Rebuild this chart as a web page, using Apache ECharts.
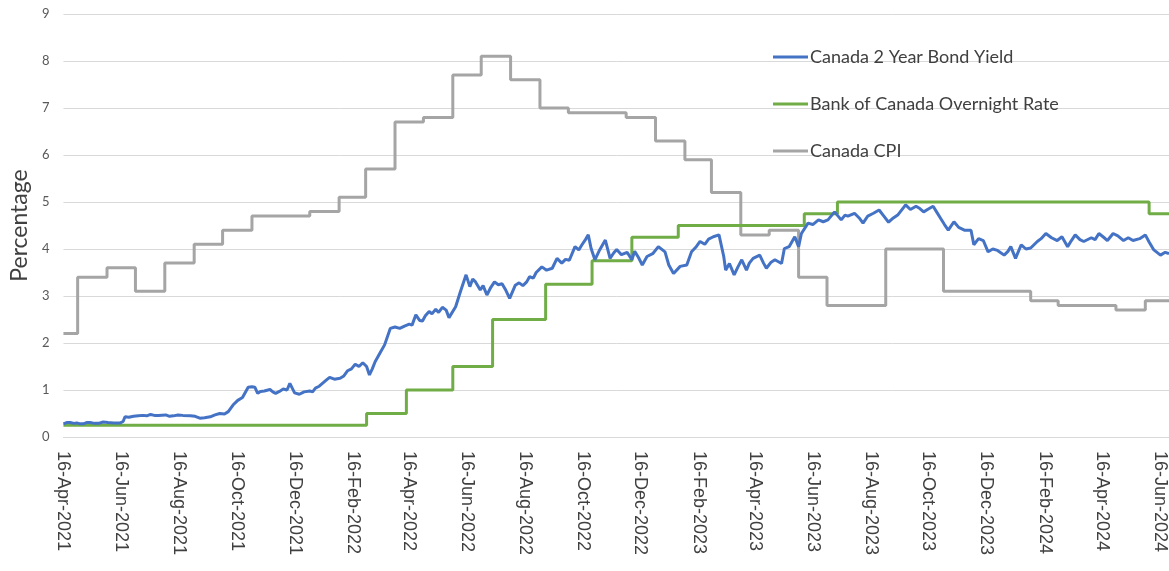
<!DOCTYPE html>
<html>
<head>
<meta charset="utf-8">
<script src="https://cdn.jsdelivr.net/npm/echarts@6/dist/echarts.min.js"></script>
<style>
html,body{margin:0;padding:0;background:#fff;}
#chart{width:1169px;height:571px;}
</style>
</head>
<body>
<div id="chart"></div>
<script>
// ---------- data ----------
const seriesNames = ['Canada 2 Year Bond Yield', 'Bank of Canada Overnight Rate', 'Canada CPI'];

const xTickLabels = ['16-Apr-2021','16-Jun-2021','16-Aug-2021','16-Oct-2021','16-Dec-2021',
  '16-Feb-2022','16-Apr-2022','16-Jun-2022','16-Aug-2022','16-Oct-2022','16-Dec-2022',
  '16-Feb-2023','16-Apr-2023','16-Jun-2023','16-Aug-2023','16-Oct-2023','16-Dec-2023',
  '16-Feb-2024','16-Apr-2024','16-Jun-2024'];
const yTickLabels = [0,1,2,3,4,5,6,7,8,9];
const xStart = '2021-04-16';
const xEnd = '2024-06-26';

const bondDates = ['2021-04-16','2021-04-20','2021-04-23','2021-04-27','2021-04-30','2021-05-04','2021-05-07','2021-05-11','2021-05-14','2021-05-19',
  '2021-05-23','2021-05-28','2021-06-02','2021-06-08','2021-06-15','2021-06-18',
  '2021-06-20','2021-06-24','2021-06-29','2021-07-04','2021-07-09','2021-07-13','2021-07-17','2021-07-21','2021-07-25','2021-08-02','2021-08-06','2021-08-10','2021-08-15','2021-08-20','2021-08-28','2021-09-02','2021-09-07',
  '2021-09-12','2021-09-18','2021-09-23','2021-09-28','2021-10-03','2021-10-07','2021-10-12','2021-10-17','2021-10-22','2021-10-28','2021-11-01','2021-11-04','2021-11-07','2021-11-10','2021-11-14',
  '2021-11-20','2021-11-23','2021-11-26','2021-11-30','2021-12-04','2021-12-08','2021-12-11','2021-12-16','2021-12-21','2021-12-26','2022-01-01','2022-01-04','2022-01-07','2022-01-11','2022-01-15','2022-01-19','2022-01-22',
  '2022-01-27','2022-02-02','2022-02-06','2022-02-10','2022-02-14','2022-02-18','2022-02-22','2022-02-26','2022-03-02','2022-03-05','2022-03-08','2022-03-11','2022-03-16','2022-03-21','2022-03-27','2022-04-01','2022-04-06','2022-04-11','2022-04-16',
  '2022-04-19','2022-04-23','2022-04-27','2022-04-30','2022-05-03','2022-05-07','2022-05-10','2022-05-14','2022-05-17','2022-05-21','2022-05-25','2022-05-28','2022-06-04','2022-06-09','2022-06-15','2022-06-19',
  '2022-06-22','2022-06-25','2022-06-30','2022-07-03','2022-07-07','2022-07-11','2022-07-15','2022-07-19','2022-07-23','2022-07-27','2022-07-31','2022-08-06','2022-08-10','2022-08-14','2022-08-18','2022-08-21','2022-08-25','2022-08-28',
  '2022-09-03','2022-09-08','2022-09-14','2022-09-19','2022-09-24','2022-09-28','2022-10-02','2022-10-08','2022-10-12','2022-10-15','2022-10-19','2022-10-22','2022-10-25','2022-10-29','2022-11-03','2022-11-09',
  '2022-11-14','2022-11-18','2022-11-21','2022-11-26','2022-12-02','2022-12-07','2022-12-10','2022-12-14','2022-12-18','2022-12-23','2022-12-29','2023-01-04','2023-01-11','2023-01-15',
  '2023-01-20','2023-01-27','2023-02-03','2023-02-08','2023-02-13','2023-02-17','2023-02-22','2023-02-26','2023-03-03','2023-03-09','2023-03-14','2023-03-16','2023-03-20',
  '2023-03-25','2023-03-29','2023-04-02','2023-04-07','2023-04-10','2023-04-14','2023-04-21','2023-04-25','2023-04-28','2023-05-03','2023-05-07','2023-05-14','2023-05-17','2023-05-22',
  '2023-05-28','2023-06-01','2023-06-04','2023-06-11','2023-06-16','2023-06-22','2023-06-27','2023-07-02','2023-07-09','2023-07-16','2023-07-20','2023-07-23','2023-07-30',
  '2023-08-04','2023-08-08','2023-08-13','2023-08-19','2023-08-25','2023-08-30','2023-09-04','2023-09-09','2023-09-14','2023-09-22','2023-09-27','2023-10-03','2023-10-07','2023-10-11','2023-10-16','2023-10-21','2023-10-25','2023-10-29',
  '2023-11-02','2023-11-06','2023-11-12','2023-11-17','2023-11-23','2023-11-30','2023-12-03','2023-12-08','2023-12-13','2023-12-18','2023-12-23','2023-12-28','2024-01-04','2024-01-08','2024-01-11',
  '2024-01-16','2024-01-22','2024-01-27','2024-02-01','2024-02-08','2024-02-12','2024-02-17','2024-02-23','2024-02-29','2024-03-05','2024-03-11','2024-03-15','2024-03-19','2024-03-24','2024-03-28','2024-04-05',
  '2024-04-09','2024-04-13','2024-04-18','2024-04-22','2024-04-28','2024-05-03','2024-05-09','2024-05-14','2024-05-19','2024-05-26','2024-06-01','2024-06-05','2024-06-10','2024-06-17','2024-06-22','2024-06-26'];
const bondYield = [0.28,0.31,0.31,0.29,0.30,0.28,0.28,0.31,0.31,0.29,
  0.29,0.32,0.31,0.30,0.30,0.33,
  0.43,0.42,0.44,0.45,0.46,0.45,0.48,0.46,0.46,0.47,0.44,0.45,0.47,0.46,0.45,0.44,0.40,
  0.41,0.43,0.47,0.50,0.49,0.54,0.68,0.78,0.84,1.06,1.07,1.06,0.93,0.97,0.98,
  1.01,0.96,0.93,0.97,1.02,1.00,1.14,0.94,0.91,0.96,0.98,0.96,1.04,1.08,1.15,1.22,1.27,
  1.23,1.25,1.30,1.41,1.45,1.55,1.50,1.58,1.50,1.32,1.45,1.60,1.78,1.96,2.31,2.34,2.31,2.36,2.40,
  2.38,2.60,2.48,2.47,2.58,2.67,2.62,2.72,2.65,2.76,2.70,2.54,2.77,3.09,3.45,3.20,
  3.36,3.30,3.13,3.22,3.02,3.18,3.30,3.24,3.26,3.12,2.95,3.23,3.28,3.22,3.30,3.41,3.38,3.50,
  3.62,3.55,3.59,3.80,3.70,3.78,3.76,4.05,3.98,4.08,4.20,4.30,4.01,3.77,3.98,4.19,
  3.80,3.92,3.99,3.88,3.93,3.77,3.95,3.82,3.66,3.84,3.90,4.05,3.94,3.66,
  3.48,3.63,3.66,3.94,4.05,4.16,4.10,4.21,4.26,4.30,3.84,3.55,3.69,
  3.45,3.62,3.77,3.55,3.70,3.80,3.87,3.70,3.59,3.72,3.77,3.69,4.01,4.05,
  4.26,4.05,4.33,4.55,4.52,4.62,4.58,4.62,4.79,4.62,4.72,4.70,4.76,
  4.66,4.55,4.70,4.76,4.83,4.70,4.57,4.66,4.73,4.94,4.84,4.91,4.86,4.79,4.85,4.91,4.78,4.65,
  4.52,4.40,4.58,4.46,4.40,4.40,4.09,4.22,4.18,3.94,4.00,3.97,3.87,3.95,4.05,
  3.80,4.09,4.00,4.02,4.16,4.22,4.33,4.24,4.18,4.26,4.05,4.18,4.30,4.20,4.16,4.24,
  4.20,4.33,4.25,4.18,4.33,4.28,4.18,4.24,4.18,4.22,4.30,4.15,3.98,3.87,3.93,3.90];

const rateDates = ['2021-04-16','2022-03-02','2022-04-13','2022-06-01','2022-07-13','2022-09-07','2022-10-26',
  '2022-12-07','2023-01-25','2023-06-07','2023-07-12','2024-06-05','2024-06-26'];
const rateValues = [0.25,0.5,1.0,1.5,2.5,3.25,3.75,4.25,4.5,4.75,5.0,4.75,4.75];

const cpiDates = ['2021-04-16','2021-05-01','2021-06-01','2021-07-01','2021-08-01','2021-09-01','2021-10-01','2021-11-01',
  '2022-01-01','2022-02-01','2022-03-01','2022-04-01','2022-05-01','2022-06-01','2022-07-01','2022-08-01','2022-09-01',
  '2022-10-01','2022-12-01','2023-01-01','2023-02-01','2023-03-01','2023-04-01','2023-05-01','2023-06-01','2023-07-01',
  '2023-09-01','2023-11-01','2024-02-01','2024-03-01','2024-05-01','2024-06-01','2024-06-26'];
const cpiValues = [2.2,3.4,3.6,3.1,3.7,4.1,4.4,4.7,
  4.8,5.1,5.7,6.7,6.8,7.7,8.1,7.6,7.0,
  6.9,6.8,6.3,5.9,5.2,4.3,4.4,3.4,2.8,
  4.0,3.1,2.9,2.8,2.7,2.9,2.9];

// ---------- helpers ----------
const MONTHS = ['Jan','Feb','Mar','Apr','May','Jun','Jul','Aug','Sep','Oct','Nov','Dec'];
function parseLabel(s){ const p = s.split('-'); return Date.UTC(+p[2], MONTHS.indexOf(p[1]), +p[0]); }
function parseIso(s){ const p = s.split('-'); return Date.UTC(+p[0], +p[1]-1, +p[2]); }
const tickTimes = xTickLabels.map(parseLabel);
function pairs(d, v){ return d.map((x,i)=>[parseIso(x), v[i]]); }
function labelFor(v){
  let best = -1, bd = Infinity;
  tickTimes.forEach((t,i)=>{ const dd = Math.abs(t - v); if (dd < bd){ bd = dd; best = i; } });
  return (best >= 0 && bd < 43200000) ? xTickLabels[best] : '';
}

const chart = echarts.init(document.getElementById('chart'), null, {renderer:'canvas'});
chart.setOption({
  animation: false,
  backgroundColor: '#ffffff',
  grid: { left: 60, right: 0, top: 14, bottom: 134, containLabel: false },
  legend: {
    orient: 'vertical', left: 773, top: 47, padding: 0,
    itemWidth: 35, itemHeight: 3, itemGap: 27, icon: 'rect',
    textStyle: { fontFamily: 'Lato', fontSize: 18, color: '#404040', lineHeight: 20, padding: [0,0,0,-3] },
    data: seriesNames
  },
  xAxis: {
    type: 'value',
    min: parseIso(xStart), max: parseIso(xEnd),
    axisLine: { show: true, lineStyle: { color: '#D9D9D9', width: 1 } },
    axisTick: { show: false },
    splitLine: { show: false },
    axisLabel: {
      customValues: tickTimes,
      rotate: -90,
      margin: 14,
      fontFamily: 'Liberation Sans', fontSize: 18, color: '#404040',
      formatter: function(v){ return labelFor(v); }
    }
  },
  yAxis: {
    type: 'value', min: 0, max: 9, interval: 1,
    name: 'Percentage', nameLocation: 'middle', nameGap: 31, nameRotate: 90,
    nameTextStyle: { fontFamily: 'Lato', fontSize: 23, color: '#404040' },
    axisLine: { show: false }, axisTick: { show: false },
    axisLabel: { fontFamily: 'Lato', fontSize: 13, color: '#595959', margin: 14,
      formatter: function(v){ return yTickLabels.indexOf(v) >= 0 ? String(v) : ''; } },
    splitLine: { lineStyle: { color: '#D9D9D9', width: 1 } }
  },
  series: [
    { name: seriesNames[0], type: 'line', data: pairs(bondDates, bondYield), showSymbol: false, symbol: 'none',
      lineStyle: { color: '#4472C4', width: 3 }, itemStyle: { color: '#4472C4' }, z: 4 },
    { name: seriesNames[1], type: 'line', step: 'end', data: pairs(rateDates, rateValues), showSymbol: false, symbol: 'none',
      lineStyle: { color: '#70AD47', width: 3 }, itemStyle: { color: '#70AD47' }, z: 3 },
    { name: seriesNames[2], type: 'line', step: 'end', data: pairs(cpiDates, cpiValues), showSymbol: false, symbol: 'none',
      lineStyle: { color: '#A5A5A5', width: 3 }, itemStyle: { color: '#A5A5A5' }, z: 2 }
  ]
});
</script>
</body>
</html>
